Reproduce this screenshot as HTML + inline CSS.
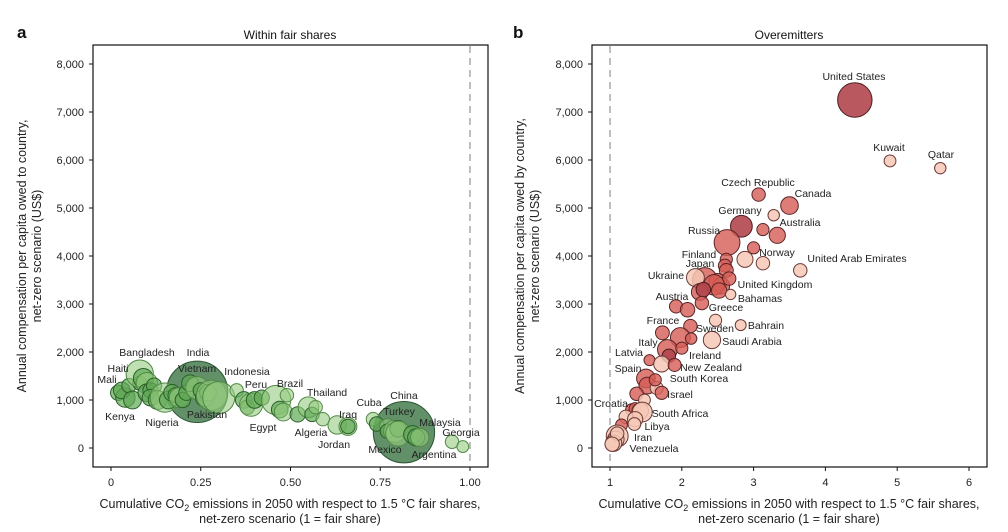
<!DOCTYPE html>
<html><head><meta charset="utf-8"><style>
body{margin:0;background:#fff;}
svg{display:block;font-family:"Liberation Sans",sans-serif;}
</style></head><body>
<svg id="fig" width="1008" height="532" viewBox="0 0 1008 532">
<g id="pa"></g>
<g id="pb"></g>
</svg>
<script>
// ---- Panel a data (within fair shares) ----
const aX=[0.24,0.816,0.02,0.04,0.03,0.05,0.06,0.08,0.08,0.09,0.10,0.10,0.11,0.12,0.11,0.13,0.15,0.16,0.17,0.18,0.19,0.20,0.21,0.22,0.24,0.25,0.26,0.27,0.28,0.30,0.35,0.37,0.38,0.39,0.40,0.42,0.46,0.47,0.48,0.49,0.52,0.55,0.56,0.57,0.59,0.63,0.66,0.66,0.73,0.74,0.77,0.77,0.79,0.80,0.80,0.84,0.85,0.86,0.95,0.98];
const aY=[1170,330,1150,1050,1200,1300,1000,1350,1550,1450,1350,1150,1200,1300,1050,1000,1050,1000,1150,1100,1050,1000,1150,1350,1250,1200,1050,1150,1100,1050,1200,1000,850,900,1000,1050,1000,800,750,1100,700,850,700,850,600,480,450,450,600,500,450,350,350,400,300,280,220,220,130,30];
const aPop=[1400,1400,20,55,30,15,40,12,170,60,80,40,20,20,30,50,210,40,30,20,60,20,20,30,100,20,40,30,230,270,10,30,15,100,30,20,210,30,40,10,20,70,15,10,10,45,40,15,11,15,20,15,85,30,130,40,33,45,10,4];
const aShade=[2,2,1,1,1,1,1,1,0,1,0,1,1,1,1,1,0,1,1,1,0,1,1,1,0,1,1,1,0,0,0,1,1,0,1,1,0,1,0,0,1,0,1,0,0,0,0,1,0,1,0,1,0,1,0,1,1,0,0,0];
const aLabels=["Bangladesh","India","Haiti","Mali","Vietnam","Indonesia","Peru","Brazil","Thailand","Cuba","China","Turkey","Iraq","Malaysia","Georgia","Kenya","Nigeria","Pakistan","Egypt","Algeria","Jordan","Mexico","Argentina"];
const aLabX=[147,198,118,107,197,247,256,290,327,369,404,399,348,440,461,120,162,207,263,311,334,385,434];
const aLabY=[352,352,368,379,368,371,384,383,392,402,395,411,414,422,432,416,422,414,427,432,444,449,454];
const aXTicks=[0,0.25,0.5,0.75,1.0];
const aXTickLabels=["0","0.25","0.50","0.75","1.00"];

// ---- Panel b data (overemitters) ----
const bX=[4.41,4.9,5.6,3.07,3.5,3.28,2.83,3.13,3.33,2.63,3.0,2.88,3.13,3.65,2.62,2.6,2.62,2.32,2.19,2.5,2.55,2.66,2.45,2.25,2.3,2.52,2.68,2.28,1.92,2.08,2.47,1.73,2.12,2.82,1.98,2.42,2.13,1.8,2.0,1.82,1.55,1.72,1.9,1.5,1.52,1.65,1.63,1.72,1.37,1.48,1.3,1.35,1.42,1.45,1.22,1.35,1.34,1.16,1.1,1.08,1.05,1.1,1.03];
const bY=[7250,5980,5830,5280,5050,4850,4620,4550,4430,4280,4170,3930,3850,3700,3930,3800,3700,3500,3550,3450,3380,3530,3400,3250,3300,3280,3200,3020,2950,2880,2660,2400,2540,2560,2300,2250,2280,2050,2080,1920,1830,1750,1730,1450,1300,1250,1420,1150,1130,1000,800,820,770,750,650,600,500,480,250,180,100,300,80];
const bPop=[330,4,3,10,38,3,83,5,26,144,5,25,10,10,5,8,12,125,40,40,30,10,67,30,15,20,1,10,9,15,5,12,10,2,60,35,3,60,5,10,2,25,8,47,30,8,5,9,10,4,4,5,30,60,10,20,7,4,85,30,28,10,15];
const bShade=[2,0,0,1,1,0,2,1,1,1,1,0,0,0,1,1,1,1,0,1,1,1,1,1,2,1,0,1,1,1,0,1,1,0,1,0,1,1,1,2,1,0,1,1,1,0,1,1,1,0,1,1,0,0,0,0,0,1,0,0,0,0,0];
const bLabels=["United States","Kuwait","Qatar","Czech Republic","Canada","Germany","Australia","Russia","Finland","Norway","United Arab Emirates","Japan","Ukraine","United Kingdom","Austria","Bahamas","Greece","France","Sweden","Bahrain","Saudi Arabia","Italy","Ireland","Latvia","New Zealand","Spain","South Korea","Israel","Croatia","South Africa","Libya","Iran","Venezuela"];
const bLabX=[854,889,941,758,813,740,800,704,699,777,857,700,666,775,672,760,726,663,715,766,752,648,705,629,711,628,699,680,611,680,657,643,654];
const bLabY=[76,147,154,182,193,210,222,230,254,252,258,263,275,284,296,298,307,320,328,325,341,342,355,352,367,368,378,394,403,413,426,437,448];
const bXTicks=[1,2,3,4,5,6];
const bXTickLabels=["1","2","3","4","5","6"];

const yTicks=[0,1000,2000,3000,4000,5000,6000,7000,8000];
const yTickLabels=["0","1,000","2,000","3,000","4,000","5,000","6,000","7,000","8,000"];

const NS="http://www.w3.org/2000/svg";
function mk(parent,tag,attrs,text){const e=document.createElementNS(NS,tag);for(const k in attrs)e.setAttribute(k,attrs[k]);if(text!==undefined)e.textContent=text;parent.appendChild(e);return e;}
const yScale=v=>448-v*0.048;
const rOf=p=>4.5+0.7*Math.sqrt(p);

function panel(g,cfg){
  const xs=cfg.xs;
  const fr=mk(g,'rect',{x:cfg.fx0,y:45,width:cfg.fx1-cfg.fx0,height:422,fill:'none',stroke:'#111','stroke-width':1.2});
  
  
  const dl=mk(g,'line',{x1:xs(1),x2:xs(1),y1:46,y2:466,stroke:'#aaa','stroke-width':1.5,'stroke-dasharray':'7,5'});
  
  
  yTicks.forEach((v,i)=>{
    const t=mk(g,'line',{x1:cfg.fx0-4,x2:cfg.fx0,y1:yScale(v),y2:yScale(v),stroke:'#111'});
    
    
    const l=mk(g,'text',{x:cfg.fx0-9,y:yScale(v)+4,'text-anchor':'end','font-size':11,fill:'#222'},yTickLabels[i]);
    
    
  });
  cfg.xt.forEach((v,i)=>{
    const t=mk(g,'line',{x1:xs(v),x2:xs(v),y1:467,y2:471,stroke:'#111'});
    
    
    const l=mk(g,'text',{x:xs(v),y:486,'text-anchor':'middle','font-size':11,fill:'#222'},cfg.xtl[i]);
    
    
  });
  cfg.X.forEach((xv,i)=>{
    const s=cfg.shade[i];
    const c=mk(g,'circle',{cx:xs(xv),cy:yScale(cfg.Y[i]),r:rOf(cfg.P[i]),fill:cfg.fills[s],stroke:cfg.strokes[s],'stroke-width':1});
    
    
  });
  cfg.L.forEach((t,i)=>{
    const l=mk(g,'text',{x:cfg.LX[i],y:cfg.LY[i]+4,'text-anchor':'middle','font-size':10.5,fill:'#222'},t);
    
    
  });
  const pl=mk(g,'text',{x:cfg.letterX,y:38,'font-size':17,'font-weight':'bold',fill:'#111'},cfg.letter);
  
  
  const ti=mk(g,'text',{x:cfg.cx,y:39,'text-anchor':'middle','font-size':12,fill:'#111'},cfg.title);
  
  
  const xt=mk(g,'text',{x:cfg.cx,y:508,'text-anchor':'middle','font-size':12.5,fill:'#222'});
  
  
  xt.innerHTML='<tspan>Cumulative CO</tspan><tspan font-size="9" dy="3">2</tspan><tspan dy="-3"> emissions in 2050 with respect to 1.5 °C fair shares,</tspan><tspan x="'+cfg.cx+'" dy="15">net-zero scenario (1 = fair share)</tspan>';
  const yt=mk(g,'text',{transform:'translate('+cfg.ytx+',256) rotate(-90)','text-anchor':'middle','font-size':12.5,fill:'#222'});
  
  
  yt.innerHTML='<tspan x="0" y="0">'+cfg.ytitle+'</tspan><tspan x="0" dy="15">net-zero scenario (US$)</tspan>';
}

panel(document.getElementById('pa'),{
  xs:v=>111+v*359,fx0:93,fx1:488,xt:aXTicks,xtl:aXTickLabels,
  X:aX,Y:aY,P:aPop,shade:aShade,
  fills:['rgba(150,203,128,0.6)','rgba(96,168,84,0.7)','rgba(70,125,78,0.85)'],
  strokes:['#4f8a45','#2a5f29','#2c5533'],
  L:aLabels,LX:aLabX,LY:aLabY,letter:'a',letterX:17,cx:290,title:'Within fair shares',
  ytx:26,ytitle:'Annual compensation per capita owed to country,'
});
panel(document.getElementById('pb'),{
  xs:v=>610+(v-1)*71.8,fx0:592,fx1:987,xt:bXTicks,xtl:bXTickLabels,
  X:bX,Y:bY,P:bPop,shade:bShade,
  fills:['rgba(246,200,182,0.85)','rgba(214,92,86,0.8)','rgba(178,70,78,0.9)'],
  strokes:['#6b3a36','#5a2424','#4a1c20'],
  L:bLabels,LX:bLabX,LY:bLabY,letter:'b',letterX:513,cx:789,title:'Overemitters',
  ytx:524,ytitle:'Annual compensation per capita owed by country,'
});
</script>
</body></html>
